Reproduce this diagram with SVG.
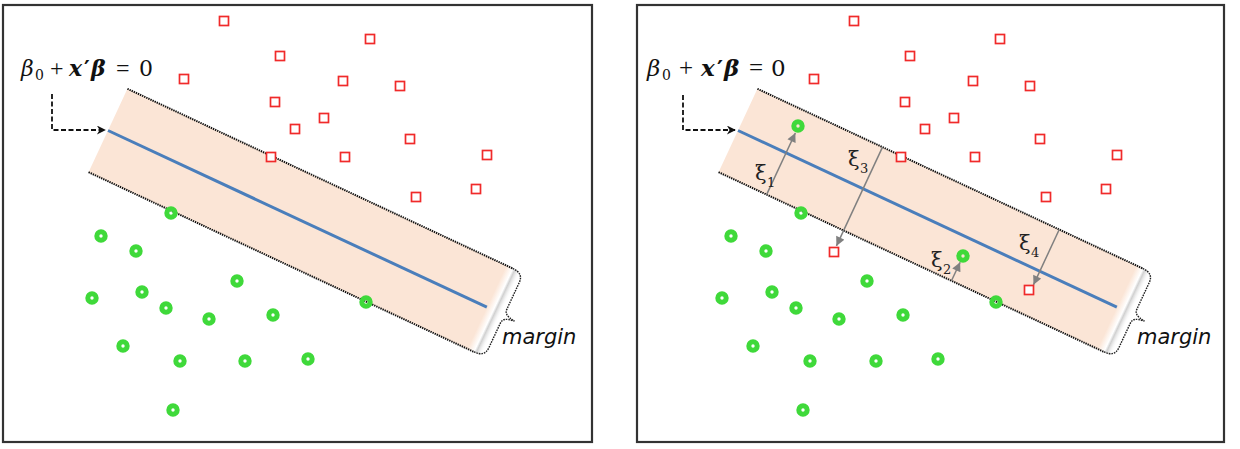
<svg xmlns="http://www.w3.org/2000/svg" xmlns:xlink="http://www.w3.org/1999/xlink" width="1240" height="449" viewBox="0 0 1240 449">
<style>
.frame{fill:#fff;stroke:#333;stroke-width:2.2}
.band{fill:#fbe5d6}
.hyper{stroke:#4a7ebb;stroke-width:3;fill:none}
.edge{stroke:#111;stroke-width:2;stroke-dasharray:1.4 0.9;fill:none}
.brace{stroke:#222;stroke-width:1.4;stroke-dasharray:1.6 1;fill:none}
.red{fill:#fff;stroke:#f02a2a;stroke-width:1.7}
.green{fill:none;stroke:#3fd93a;stroke-width:5}
.lead{stroke:#111;stroke-width:1.8;stroke-dasharray:5 2.5;fill:none}
.xi{stroke:#808080;stroke-width:1.5;fill:none}
.eq{font-family:"DejaVu Serif","Liberation Serif",serif;fill:#111}
.op{font-family:"Liberation Serif","DejaVu Serif",serif}
.lbl{font-family:"DejaVu Sans","Open Sans",sans-serif;font-style:italic;font-size:21px;fill:#111}
.xil{font-family:"DejaVu Serif","Liberation Serif",serif;fill:#222}
</style>
<defs>
<rect id="sq" x="-4.5" y="-4.5" width="9" height="9" class="red"/>
<circle id="dot" r="4.2" class="green"/>
<marker id="blk" viewBox="0 0 10 10" refX="9" refY="5" markerWidth="10" markerHeight="9" markerUnits="userSpaceOnUse" orient="auto">
<path d="M0,0 L10,5 L0,10 L3,5 z" fill="#111"/>
</marker>
<marker id="gry" viewBox="0 0 10 10" refX="10" refY="5" markerWidth="10" markerHeight="9" markerUnits="userSpaceOnUse" orient="auto">
<path d="M0,0 L10,5 L0,10 z" fill="#808080"/>
</marker>
<linearGradient id="shade" x1="0" y1="0" x2="1" y2="0">
<stop offset="0" stop-color="#fbe5d6"/>
<stop offset="0.45" stop-color="#ffffff"/>
<stop offset="0.6" stop-color="#d0d0d0"/>
<stop offset="1" stop-color="#ffffff" stop-opacity="0"/>
</linearGradient>
</defs>

<g id="left-panel">
<rect class="frame" x="3" y="5" width="589" height="437"/>
<g id="left-band" transform="translate(108,130.5) rotate(25)">
<rect class="band" x="0" y="-46" width="422" height="92"/>
<rect x="418" y="-46" width="16" height="92" fill="url(#shade)"/>
<line class="hyper" x1="0" y1="0" x2="418" y2="0"/>
<line class="edge" x1="0" y1="-46" x2="425" y2="-46"/>
<line class="edge" x1="0" y1="46" x2="425" y2="46"/>
<path class="brace" d="M425,-46 C433,-46 437,-43 437,-36 L437,-7 C437,-2 440,0 449,1 C440,2 437,4 437,9 L437,36 C437,43 433,46 425,46"/>
</g>
<g id="left-label">
<text class="eq" font-size="22" y="76"><tspan x="21" font-style="italic">β</tspan><tspan x="35" y="80" font-size="14">0</tspan><tspan class="op" x="50" y="76" font-size="24">+</tspan><tspan x="69" font-style="italic" font-weight="bold">x</tspan><tspan x="84" font-weight="bold">′</tspan><tspan x="91" font-style="italic" font-weight="bold">β</tspan><tspan class="op" x="116" font-size="24">=</tspan><tspan x="139">0</tspan></text>
</g>
<g id="left-margin"><text class="lbl" x="502" y="344">margin</text></g>
<g id="left-connectors">
<path class="lead" d="M52,94 L52,130 L105,130" marker-end="url(#blk)"/>
</g>
<g id="left-red">
<use href="#sq" x="224" y="21"/><use href="#sq" x="370" y="39"/><use href="#sq" x="280" y="56"/>
<use href="#sq" x="184" y="79"/><use href="#sq" x="343" y="81"/><use href="#sq" x="400" y="86"/>
<use href="#sq" x="275" y="102"/><use href="#sq" x="324" y="118"/><use href="#sq" x="295" y="129"/>
<use href="#sq" x="410" y="139"/><use href="#sq" x="271" y="157"/><use href="#sq" x="345" y="157"/>
<use href="#sq" x="487" y="155"/><use href="#sq" x="476" y="189"/><use href="#sq" x="416" y="197"/>
</g>
<g id="left-green">
<use href="#dot" x="171" y="213"/><use href="#dot" x="101" y="236"/><use href="#dot" x="136" y="251"/>
<use href="#dot" x="237" y="281"/><use href="#dot" x="92" y="298"/><use href="#dot" x="142" y="292"/>
<use href="#dot" x="166" y="308"/><use href="#dot" x="209" y="319"/><use href="#dot" x="273" y="315"/>
<use href="#dot" x="366" y="302"/><use href="#dot" x="123" y="346"/><use href="#dot" x="180" y="361"/>
<use href="#dot" x="245" y="361"/><use href="#dot" x="308" y="359"/><use href="#dot" x="173" y="410"/>
</g>
</g>

<g id="right-panel">
<rect class="frame" x="637" y="5" width="587" height="437"/>
<g id="right-band" transform="translate(738,130.5) rotate(25)">
<rect class="band" x="0" y="-46" width="422" height="92"/>
<rect x="418" y="-46" width="16" height="92" fill="url(#shade)"/>
<line class="hyper" x1="0" y1="0" x2="418" y2="0"/>
<line class="edge" x1="0" y1="-46" x2="425" y2="-46"/>
<line class="edge" x1="0" y1="46" x2="425" y2="46"/>
<path class="brace" d="M425,-46 C433,-46 437,-43 437,-36 L437,-7 C437,-2 440,0 449,1 C440,2 437,4 437,9 L437,36 C437,43 433,46 425,46"/>
<g id="right-slack-connectors">
<line class="xi" x1="53" y1="46" x2="53" y2="-22" marker-end="url(#gry)"/>
<line class="xi" x1="257" y1="46" x2="257" y2="25.5" marker-end="url(#gry)"/>
<line class="xi" x1="138" y1="-46" x2="138" y2="63" marker-end="url(#gry)"/>
<line class="xi" x1="333" y1="-46" x2="333" y2="15" marker-end="url(#gry)"/>
</g>
</g>
<g id="right-label">
<text class="eq" font-size="23" y="76"><tspan x="647" font-style="italic">β</tspan><tspan x="662" y="80" font-size="14">0</tspan><tspan class="op" x="679" y="76" font-size="25">+</tspan><tspan x="701" font-style="italic" font-weight="bold">x</tspan><tspan x="717" font-weight="bold">′</tspan><tspan x="724" font-style="italic" font-weight="bold">β</tspan><tspan class="op" x="749" font-size="25">=</tspan><tspan x="771">0</tspan></text>
</g>
<g id="right-margin"><text class="lbl" x="1137" y="344">margin</text></g>
<g id="xi-labels">
<text class="xil" font-size="21" x="755" y="180">ξ<tspan x="767" y="187" font-size="13">1</tspan></text>
<text class="xil" font-size="21" x="848" y="166">ξ<tspan x="860" y="173" font-size="13">3</tspan></text>
<text class="xil" font-size="21" x="931" y="267">ξ<tspan x="943" y="274" font-size="13">2</tspan></text>
<text class="xil" font-size="21" x="1019" y="250">ξ<tspan x="1031" y="257" font-size="13">4</tspan></text>
</g>
<g id="right-connectors">
<path class="lead" d="M683,95 L683,130 L735,130" marker-end="url(#blk)"/>
</g>
<g id="right-red">
<use href="#sq" x="854" y="21"/><use href="#sq" x="1000" y="39"/><use href="#sq" x="910" y="56"/>
<use href="#sq" x="814" y="79"/><use href="#sq" x="973" y="81"/><use href="#sq" x="1030" y="86"/>
<use href="#sq" x="905" y="102"/><use href="#sq" x="954" y="118"/><use href="#sq" x="925" y="129"/>
<use href="#sq" x="1040" y="139"/><use href="#sq" x="901" y="157"/><use href="#sq" x="975" y="157"/>
<use href="#sq" x="1117" y="155"/><use href="#sq" x="1106" y="189"/><use href="#sq" x="1046" y="197"/>
<use href="#sq" x="834" y="252"/><use href="#sq" x="1029" y="290"/>
</g>
<g id="right-green">
<use href="#dot" x="798" y="126"/><use href="#dot" x="963" y="256"/>
<use href="#dot" x="801" y="213"/><use href="#dot" x="731" y="236"/><use href="#dot" x="766" y="251"/>
<use href="#dot" x="867" y="281"/><use href="#dot" x="722" y="298"/><use href="#dot" x="772" y="292"/>
<use href="#dot" x="796" y="308"/><use href="#dot" x="839" y="319"/><use href="#dot" x="903" y="315"/>
<use href="#dot" x="996" y="302"/><use href="#dot" x="753" y="346"/><use href="#dot" x="810" y="361"/>
<use href="#dot" x="876" y="361"/><use href="#dot" x="938" y="359"/><use href="#dot" x="803" y="410"/>
</g>
</g>
</svg>
